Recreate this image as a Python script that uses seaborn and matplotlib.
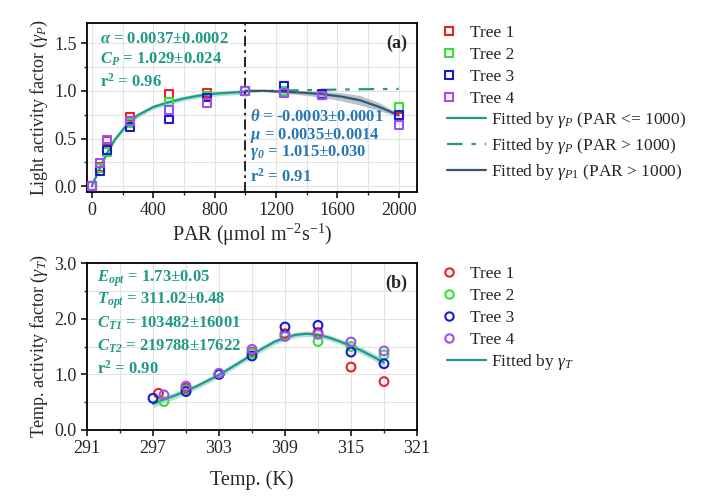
import numpy as np
import pandas as pd
import matplotlib
matplotlib.use("Agg")
import matplotlib.pyplot as plt
import seaborn as sns
from matplotlib.lines import Line2D
from matplotlib.ticker import MultipleLocator, FixedLocator, FormatStrFormatter

# ---- data ----
trees = ["Tree 1", "Tree 2", "Tree 3", "Tree 4"]
tree_colors = ["#e8202a", "#33e033", "#1a1acf", "#a050f0"]

# (a) light response, PAR levels and measured factors per tree
par = [0, 50, 100, 250, 500, 750, 1000, 1250, 1500, 2000]
gp_tree1 = [0.0, 0.20, 0.48, 0.73, 0.965, 0.98, 1.0, 1.00, 0.96, 0.73]
gp_tree2 = [0.0, 0.19, 0.36, 0.66, 0.88, 0.95, 1.0, 1.00, 0.96, 0.83]
gp_tree3 = [0.0, 0.16, 0.38, 0.62, 0.70, 0.93, 1.0, 1.05, 0.97, 0.745]
gp_tree4 = [0.0, 0.24, 0.49, 0.68, 0.80, 0.87, 1.0, 0.98, 0.95, 0.64]

# fitted curves
fit_par_lo = [0, 25, 50, 75, 100, 150, 200, 250, 300, 400, 500, 600, 700, 800, 900, 1000]
fit_gp_lo = [0.0, 0.095, 0.185, 0.27, 0.35, 0.49, 0.59, 0.68, 0.745, 0.83, 0.88, 0.92, 0.95, 0.97, 0.98, 0.99]
band_lo_lo = [0.0, 0.075, 0.16, 0.245, 0.325, 0.465, 0.565, 0.655, 0.72, 0.805, 0.855, 0.895, 0.925, 0.945, 0.955, 0.965]
band_lo_hi = [0.0, 0.115, 0.21, 0.295, 0.375, 0.515, 0.615, 0.705, 0.77, 0.855, 0.905, 0.945, 0.975, 0.995, 1.005, 1.015]

fit_par_hi = [1000, 1250, 1500, 1750, 2000]
fit_gp_hi = [0.993, 1.003, 1.01, 1.016, 1.02]

fit_par_p1 = [1000, 1125, 1250, 1375, 1500, 1625, 1750, 1875, 2000]
fit_gp_p1 = [1.0, 1.0, 0.99, 0.98, 0.965, 0.94, 0.90, 0.83, 0.745]
band_p1_lo = [1.0, 0.99, 0.975, 0.955, 0.93, 0.895, 0.85, 0.79, 0.725]
band_p1_hi = [1.0, 1.01, 1.005, 1.0, 0.995, 0.98, 0.95, 0.875, 0.765]

# (b) temperature response
temp_1 = [297.5, 300, 303, 306, 309, 312, 315, 318]
gt_tree1 = [0.66, 0.75, 1.0, 1.40, 1.73, 1.75, 1.13, 0.87]
temp_2 = [298, 300, 303, 306, 309, 312, 315, 318]
gt_tree2 = [0.51, 0.72, 1.0, 1.38, 1.70, 1.59, 1.50, 1.35]
temp_3 = [297, 300, 303, 306, 309, 312, 315, 318]
gt_tree3 = [0.57, 0.69, 1.0, 1.33, 1.85, 1.88, 1.40, 1.19]
temp_4 = [298, 300, 303, 306, 309, 312, 315, 318]
gt_tree4 = [0.63, 0.79, 1.02, 1.45, 1.68, 1.72, 1.58, 1.42]

fit_temp = [297, 298, 299, 300, 301, 302, 303, 304, 305, 306, 307, 308, 309,
            310, 311, 312, 313, 314, 315, 316, 317, 318]
fit_gt = [0.47, 0.55, 0.62, 0.70, 0.79, 0.89, 0.99, 1.11, 1.23, 1.35, 1.47, 1.58,
          1.66, 1.71, 1.73, 1.71, 1.66, 1.59, 1.51, 1.42, 1.32, 1.21]
band_gt = [0.07, 0.06, 0.06, 0.05, 0.05, 0.05, 0.05, 0.05, 0.05, 0.05, 0.05, 0.05,
           0.05, 0.05, 0.05, 0.05, 0.05, 0.05, 0.05, 0.06, 0.06, 0.07]

temp_ticks = [291, 297, 303, 309, 315, 321]

# ---- style ----
sns.set_style("ticks")
plt.rcParams["font.family"] = ["Liberation Serif", "DejaVu Serif"]
plt.rcParams["mathtext.fontset"] = "custom"
plt.rcParams["mathtext.rm"] = "Liberation Serif"
plt.rcParams["mathtext.it"] = "Liberation Serif:italic"
plt.rcParams["mathtext.bf"] = "Liberation Serif:bold"
plt.rcParams["mathtext.bfit"] = "Liberation Serif:italic:bold"
plt.rcParams["axes.linewidth"] = 1.3

teal = "#1f9a86"
teal_band = "#9fd8cf"
blue_txt = "#2878b5"
dark = "#3b5573"
dark_band = "#aebdcc"

fig = plt.figure(figsize=(7.04, 4.99), dpi=100)
W, H = 704, 499
ax1 = fig.add_axes([87 / W, 1 - 192 / H, 330 / W, 169 / H])
ax2 = fig.add_axes([87 / W, 1 - 430 / H, 330 / W, 167 / H])


def long_df(xs, ys):
    rows = []
    for t, x, y in zip(trees, xs, ys):
        for xi, yi in zip(x, y):
            rows.append({"x": xi, "y": yi, "tree": t})
    return pd.DataFrame(rows)


def hollow(ax, df, marker, size):
    for t, c in zip(trees, tree_colors):
        sub = df[df["tree"] == t]
        sns.scatterplot(data=sub, x="x", y="y", ax=ax, marker=marker, s=size,
                        facecolor="none", edgecolor=c, linewidth=1.5, zorder=5,
                        legend=False)


def style_axis(ax):
    ax.grid(True, which="both", color="#e3e3e3", linewidth=0.8)
    ax.set_axisbelow(True)
    ax.tick_params(which="major", direction="out", length=4, width=1.1,
                   labelsize=13, color="black")
    ax.tick_params(which="minor", direction="out", length=2.5, width=1.0)
    for s in ax.spines.values():
        s.set_visible(True)
        s.set_color("black")


# ---- panel (a) ----
ax1.fill_between(fit_par_lo, band_lo_lo, band_lo_hi, color=teal_band, alpha=0.8, lw=0, zorder=2)
ax1.fill_between(fit_par_p1, band_p1_lo, band_p1_hi, color=dark_band, alpha=0.9, lw=0, zorder=2)
sns.lineplot(x=fit_par_lo, y=fit_gp_lo, ax=ax1, color=teal, lw=1.6, zorder=3)
sns.lineplot(x=fit_par_hi, y=fit_gp_hi, ax=ax1, color=teal, lw=1.6, zorder=3,
             linestyle=(0, (7, 4, 2, 4)))
sns.lineplot(x=fit_par_p1, y=fit_gp_p1, ax=ax1, color=dark, lw=1.6, zorder=3)
ax1.axvline(1000, color="black", lw=1.2, linestyle=(0, (6, 2.5, 1.5, 2.5)), zorder=4)
hollow(ax1, long_df([par] * 4, [gp_tree1, gp_tree2, gp_tree3, gp_tree4]), "s", 32)

ax1.set_xlim(-32, 2120)
ax1.set_ylim(-0.06, 1.71)
ax1.xaxis.set_major_locator(MultipleLocator(400))
ax1.xaxis.set_minor_locator(MultipleLocator(200))
ax1.yaxis.set_major_locator(MultipleLocator(0.5))
ax1.yaxis.set_minor_locator(MultipleLocator(0.25))
ax1.yaxis.set_major_formatter(FormatStrFormatter("%.1f"))
ax1.set_xlabel(r"PAR ($\mathrm{\mu}$mol m$^{\mathrm{-2}}$s$^{\mathrm{-1}}$)", fontsize=14.5, labelpad=2)
ax1.set_ylabel(r"Light activity factor ($\mathit{\gamma}_{\mathit{P}}$)", fontsize=13, labelpad=3)
style_axis(ax1)

tk = dict(transform=ax1.transAxes, fontsize=12, fontweight="bold", va="center", ha="left")
ax1.text(0.04, 0.905, r"$\mathbfit{\alpha}$ = 0.0037±0.0002", color=teal, **tk)
ax1.text(0.04, 0.787, r"$\mathbfit{C}_{\mathbfit{P}}$ = 1.029±0.024", color=teal, **tk)
ax1.text(0.04, 0.651, r"r$^{\mathbf{2}}$ = 0.96", color=teal, **tk)
ax1.text(0.494, 0.444, r"$\mathbfit{\theta}$ = -0.0003±0.0001", color=blue_txt, **tk)
ax1.text(0.494, 0.337, r"$\mathbfit{\mu}$ = 0.0035±0.0014", color=blue_txt, **tk)
ax1.text(0.494, 0.231, r"$\mathbfit{\gamma}_{\mathbfit{0}}$ = 1.015±0.030", color=blue_txt, **tk)
ax1.text(0.494, 0.089, r"r$^{\mathbf{2}}$ = 0.91", color=blue_txt, **tk)
ax1.text(0.97, 0.88, "(a)", transform=ax1.transAxes, fontsize=13, fontweight="bold",
         ha="right", va="center")

# ---- panel (b) ----
lo_gt = [a - b for a, b in zip(fit_gt, band_gt)]
hi_gt = [a + b for a, b in zip(fit_gt, band_gt)]
ax2.fill_between(fit_temp, lo_gt, hi_gt, color=teal_band, alpha=0.8, lw=0, zorder=2)
sns.lineplot(x=fit_temp, y=fit_gt, ax=ax2, color=teal, lw=1.6, zorder=3)
hollow(ax2, long_df([temp_1, temp_2, temp_3, temp_4],
                    [gt_tree1, gt_tree2, gt_tree3, gt_tree4]), "o", 40)

ax2.set_xlim(291, 321)
ax2.set_ylim(0, 3)
ax2.xaxis.set_major_locator(FixedLocator(temp_ticks))
ax2.xaxis.set_minor_locator(FixedLocator([t + 3 for t in temp_ticks[:-1]]))
ax2.yaxis.set_major_locator(MultipleLocator(1))
ax2.yaxis.set_minor_locator(MultipleLocator(0.5))
ax2.yaxis.set_major_formatter(FormatStrFormatter("%.1f"))
ax2.set_xlabel("Temp. (K)", fontsize=14.5, labelpad=9)
ax2.set_ylabel(r"Temp. activity factor ($\mathit{\gamma}_{\mathit{T}}$)", fontsize=13, labelpad=3)
style_axis(ax2)

tk2 = dict(transform=ax2.transAxes, fontsize=12, fontweight="bold", va="center",
           ha="left", color=teal)
ax2.text(0.03, 0.904, r"$\mathbfit{E}_{\mathbfit{opt}}$ = 1.73±0.05", **tk2)
ax2.text(0.03, 0.772, r"$\mathbfit{T}_{\mathbfit{opt}}$ = 311.02±0.48", **tk2)
ax2.text(0.03, 0.641, r"$\mathbfit{C}_{\mathbfit{T1}}$ = 103482±16001", **tk2)
ax2.text(0.03, 0.503, r"$\mathbfit{C}_{\mathbfit{T2}}$ = 219788±17622", **tk2)
ax2.text(0.03, 0.365, r"r$^{\mathbf{2}}$ = 0.90", **tk2)
ax2.text(0.97, 0.88, "(b)", transform=ax2.transAxes, fontsize=13, fontweight="bold",
         ha="right", va="center")

# ---- legends ----
leg_kw = dict(frameon=False, fontsize=12.5, bbox_transform=fig.transFigure,
              loc="upper left", borderaxespad=0, borderpad=0)


def tree_handles(marker):
    return [Line2D([], [], marker=marker, ls="none", markersize=6, markerfacecolor="none",
                   markeredgecolor=c, markeredgewidth=1.5) for c in tree_colors]


la = ax1.legend(tree_handles("s"), trees, bbox_to_anchor=(440 / W, 1 - 25 / H),
                handlelength=1.0, handletextpad=0.75, labelspacing=0.33, **leg_kw)
ax1.add_artist(la)
line_handles = [Line2D([], [], color=teal, lw=1.6),
                Line2D([], [], color=teal, lw=1.6, ls=(0, (7, 4, 2, 4))),
                Line2D([], [], color=dark, lw=1.6)]
line_labels = [r"Fitted by $\mathit{\gamma}_{\mathit{P}}$ (PAR <= 1000)",
               r"Fitted by $\mathit{\gamma}_{\mathit{P}}$ (PAR > 1000)",
               r"Fitted by $\mathit{\gamma}_{\mathit{P1}}$ (PAR > 1000)"]
ax1.legend(line_handles, line_labels, bbox_to_anchor=(447 / W, 1 - 110 / H),
           handlelength=2.25, handletextpad=0.3, labelspacing=0.36, **leg_kw)

lb = ax2.legend(tree_handles("o"), trees, bbox_to_anchor=(440 / W, 1 - 266 / H),
                handlelength=1.0, handletextpad=0.75, labelspacing=0.33, **leg_kw)
ax2.add_artist(lb)
ax2.legend([Line2D([], [], color=teal, lw=1.6)],
           [r"Fitted by $\mathit{\gamma}_{\mathit{T}}$"],
           bbox_to_anchor=(447 / W, 1 - 352 / H),
           handlelength=2.25, handletextpad=0.3, **leg_kw)

fig.savefig("out.png", dpi=100)
